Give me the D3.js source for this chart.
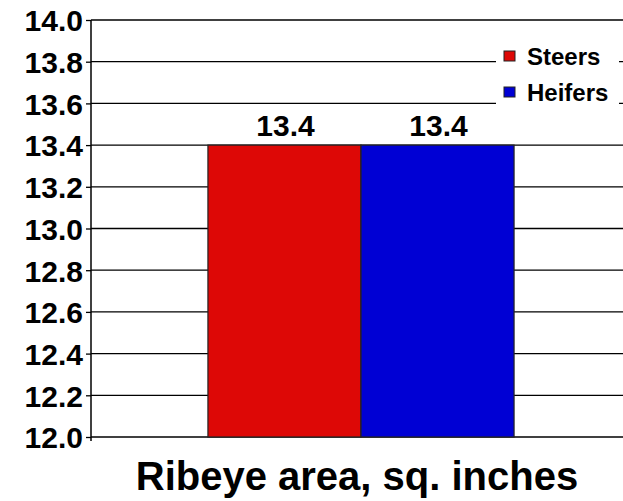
<!DOCTYPE html>
<html>
<head>
<meta charset="utf-8">
<script src="https://cdn.jsdelivr.net/npm/d3@7"></script>
<style>
  html, body { margin: 0; padding: 0; background: #fff; }
  svg { display: block; font-family: "Liberation Sans", Arial, Helvetica, sans-serif; font-weight: bold; }
</style>
</head>
<body>
<svg id="chart" width="623" height="501"></svg>
<script>
// Ribeye area by sex
const categories = ["Ribeye area, sq. inches"];
const seriesNames = ["Steers", "Heifers"];
const steers = [13.4];
const heifers = [13.4];
const seriesColors = ["#DD0806", "#0000D4"];
const yTicks = [12.0, 12.2, 12.4, 12.6, 12.8, 13.0, 13.2, 13.4, 13.6, 13.8, 14.0];
const chartTitle = "Ribeye area, sq. inches";

const seriesValues = [steers, heifers];

const svg = d3.select("#chart");
const margin = { left: 91, top: 20, right: -8, bottom: 64 };
const W = 623, H = 501;
const plotRight = W - margin.right;
const plotBottom = H - margin.bottom;

const y = d3.scaleLinear().domain([12.0, 14.0]).range([plotBottom, margin.top]);
const x0 = d3.scaleBand().domain(categories).range([margin.left, plotRight])
  .paddingInner(0).paddingOuter(0.382);
const x1 = d3.scaleBand().domain(seriesNames).range([0, x0.bandwidth()]).padding(0);

// horizontal gridlines
svg.append("g")
  .selectAll("line")
  .data(yTicks)
  .join("line")
  .attr("x1", margin.left).attr("x2", plotRight)
  .attr("y1", d => y(d)).attr("y2", d => y(d))
  .attr("stroke", "#000").attr("stroke-width", 1.3);

// bars
const groups = svg.append("g")
  .selectAll("g")
  .data(categories)
  .join("g")
  .attr("transform", c => `translate(${x0(c)},0)`);

groups.selectAll("rect")
  .data((c, ci) => seriesNames.map((s, si) => ({ s, si, v: seriesValues[si][ci] })))
  .join("rect")
  .attr("x", d => x1(d.s))
  .attr("y", d => y(d.v))
  .attr("width", x1.bandwidth())
  .attr("height", d => y(12.0) - y(d.v))
  .attr("fill", d => seriesColors[d.si])
  .attr("stroke", "#222").attr("stroke-width", 1.2);

// value labels
groups.selectAll("text")
  .data((c, ci) => seriesNames.map((s, si) => ({ s, si, v: seriesValues[si][ci] })))
  .join("text")
  .attr("x", d => x1(d.s) + x1.bandwidth() / 2 + 1)
  .attr("y", d => y(d.v) - 9)
  .attr("text-anchor", "middle")
  .attr("font-size", 30)
  .text(d => d3.format(".1f")(d.v));

// y axis
const yAxis = d3.axisLeft(y).tickValues(yTicks).tickFormat(d3.format(".1f"))
  .tickSize(5).tickPadding(3);
const ay = svg.append("g").attr("transform", `translate(${margin.left},0)`).call(yAxis);
ay.select(".domain").attr("stroke", "#000").attr("stroke-width", 1.5)
  .attr("d", `M0,${margin.top}V${plotBottom + 4}`);
ay.selectAll(".tick line").attr("stroke", "#000").attr("stroke-width", 1.3);
ay.selectAll(".tick text")
  .attr("font-size", 30).attr("font-weight", "bold")
  .attr("font-family", "'Liberation Sans', Arial, sans-serif")
  .attr("fill", "#000").attr("dy", "0.36em");

// legend
const legend = svg.append("g").attr("transform", "translate(496,40)");
legend.append("rect").attr("x", 0).attr("y", 0).attr("width", 123).attr("height", 68).attr("fill", "#fff");
const li = legend.selectAll("g.item").data(seriesNames).join("g")
  .attr("class", "item")
  .attr("transform", (d, i) => `translate(0,${i * 36})`);
li.append("rect")
  .attr("x", 8).attr("y", 11).attr("width", 11).attr("height", 10)
  .attr("fill", (d, i) => seriesColors[i]).attr("stroke", "#222").attr("stroke-width", 1);
li.append("text")
  .attr("x", 31).attr("y", 25)
  .attr("font-size", 24)
  .text(d => d);

// title below the plot
svg.append("text")
  .attr("x", 357).attr("y", 490)
  .attr("text-anchor", "middle")
  .attr("font-size", 40)
  .text(chartTitle);
</script>
</body>
</html>
